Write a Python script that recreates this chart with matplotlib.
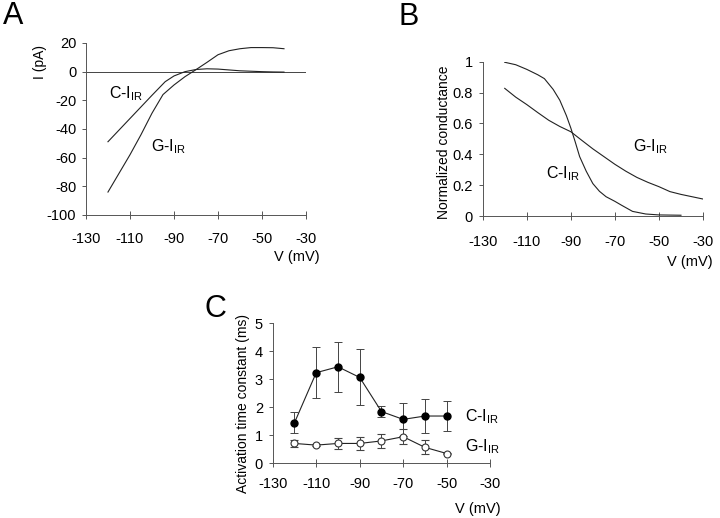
import matplotlib
matplotlib.use('Agg')
import matplotlib.pyplot as plt

plt.rcParams['font.family'] = ['Liberation Sans', 'DejaVu Sans']
plt.rcParams['mathtext.fontset'] = 'custom'
plt.rcParams['mathtext.rm'] = 'Liberation Sans'
plt.rcParams['axes.unicode_minus'] = False

# Panel A: I-V curves
a_c_v = [-120, -115, -110, -105, -100, -94, -90, -85, -80, -75, -70, -65, -60, -55, -50, -45, -40]
a_c_i = [-48.9, -40.8, -32.7, -24.6, -16.5, -7.0, -3.0, 0.0, 1.5, 2.0, 1.8, 1.2, 0.6, 0.3, 0.0, -0.2, -0.3]
a_g_v = [-120, -115, -110, -105, -100, -95, -90, -85, -80, -75, -70, -65, -60, -55, -50, -45, -40]
a_g_i = [-84, -71, -58, -44, -29, -16, -9.3, -3.5, 1.4, 6.5, 11.8, 14.6, 16, 16.8, 16.8, 16.7, 16]

# Panel B: normalized conductance
b_c_v = [-120, -115, -110, -105, -102, -98, -95, -92, -90, -88, -86, -83, -80, -77, -74, -70, -67, -62, -56, -50, -40]
b_c_g = [0.996, 0.98, 0.95, 0.915, 0.89, 0.82, 0.75, 0.65, 0.57, 0.48, 0.385, 0.29, 0.21, 0.16, 0.125,
         0.095, 0.07, 0.03, 0.013, 0.007, 0.005]
b_g_v = [-120, -115, -110, -105, -100, -95, -90, -85, -80, -75, -70, -65, -60, -55, -50, -45, -40, -35, -30]
b_g_g = [0.827, 0.77, 0.722, 0.67, 0.62, 0.58, 0.546, 0.49, 0.435, 0.385, 0.335, 0.29, 0.25, 0.218, 0.19,
         0.158, 0.14, 0.125, 0.11]

# Panel C: activation time constants
c_v = [-120, -110, -100, -90, -80, -70, -60, -50]
c_tau_c = [1.45, 3.24, 3.45, 3.07, 1.85, 1.57, 1.69, 1.69]
c_err_c = [0.38, 0.91, 0.89, 1.0, 0.2, 0.6, 0.62, 0.53]
c_tau_g = [0.71, 0.65, 0.71, 0.71, 0.80, 0.95, 0.57, 0.35]
c_err_g = [0.12, 0.04, 0.2, 0.23, 0.24, 0.27, 0.25, 0.03]

v_ticks = [-130, -110, -90, -70, -50, -30]
lab_c = r'C-I$_{\mathregular{IR}}$'
lab_g = r'G-I$_{\mathregular{IR}}$'
lc = '#222222'
fs = 10.5
fl = 10


def style_axes(ax, xpad):
    for s in ['top', 'right']:
        ax.spines[s].set_visible(False)
    for s in ['left', 'bottom']:
        ax.spines[s].set_linewidth(0.7)
        ax.spines[s].set_color('#555555')
    ax.tick_params(axis='x', direction='inout', length=6, width=0.7, colors='#555555',
                   labelcolor='black', labelsize=fs, pad=xpad)
    ax.tick_params(axis='y', direction='out', length=3, width=0.7, colors='#555555',
                   labelcolor='black', labelsize=fs, pad=4)
    ax.set_xlim(-130, -30)
    ax.set_xticks(v_ticks)


fig = plt.figure(figsize=(7.2, 5.18), dpi=100)

# A
ax = fig.add_axes([0.1194, 0.585, 0.3056, 0.332])
style_axes(ax, 9)
ax.axhline(0, color='#444444', lw=0.7)
ax.plot(a_c_v, a_c_i, color=lc, lw=0.8)
ax.plot(a_g_v, a_g_i, color=lc, lw=0.8)
ax.set_ylim(-100, 20)
ax.set_yticks([20, 0, -20, -40, -60, -80, -100])
ax.text(-119.6, -15.3, lab_c, fontsize=11.5, va='center')
ax.text(-100.6, -52.4, lab_g, fontsize=11.5, va='center')
ax.set_ylabel('I (pA)', fontsize=fl)
ax.yaxis.set_label_coords(-0.177, 0.89)
ax.set_xlabel('V (mV)', fontsize=fs)
ax.xaxis.set_label_coords(0.96, -0.205)
fig.text(0.018, 0.97, 'A', fontsize=22, va='center', ha='center')

# B
ax = fig.add_axes([0.6704, 0.583, 0.306, 0.298])
style_axes(ax, 11)
ax.plot(b_c_v, b_c_g, color=lc, lw=0.8)
ax.plot(b_g_v, b_g_g, color=lc, lw=0.8)
ax.set_ylim(0, 1)
ax.set_yticks([0, 0.2, 0.4, 0.6, 0.8, 1])
ax.set_yticklabels(['0', '0.2', '0.4', '0.6', '0.8', '1'])
ax.text(-61.7, 0.45, lab_g, fontsize=11.5, va='center')
ax.text(-101.3, 0.276, lab_c, fontsize=11.5, va='center')
ax.set_ylabel('Normalized conductance', fontsize=fl)
ax.yaxis.set_label_coords(-0.142, 0.48)
ax.set_xlabel('V (mV)', fontsize=fs)
ax.xaxis.set_label_coords(0.94, -0.25)
fig.text(0.567, 0.967, 'B', fontsize=22, va='center', ha='center')

# C
ax = fig.add_axes([0.3788, 0.1056, 0.302, 0.270])
style_axes(ax, 7)
ax.errorbar(c_v, c_tau_c, yerr=c_err_c, color=lc, lw=0.8, elinewidth=0.7, ecolor='#444444',
            capsize=3, capthick=0.7, marker='o', ms=5, mfc='black', mec='black')
ax.errorbar(c_v, c_tau_g, yerr=c_err_g, color=lc, lw=0.8, elinewidth=0.7, ecolor='#444444',
            capsize=3, capthick=0.7, marker='o', ms=5, mfc='white', mec='#333333', mew=0.8)
ax.set_ylim(0, 5)
ax.set_yticks([0, 1, 2, 3, 4, 5])
ax.text(-41.5, 1.65, lab_c, fontsize=11.5, va='center', clip_on=False)
ax.text(-41.5, 0.59, lab_g, fontsize=11.5, va='center', clip_on=False)
ax.set_ylabel('Activation time constant (ms)', fontsize=fl)
ax.yaxis.set_label_coords(-0.104, 0.43)
ax.set_xlabel('V (mV)', fontsize=fs)
ax.xaxis.set_label_coords(0.945, -0.276)
fig.text(0.299, 0.403, 'C', fontsize=22, va='center', ha='center')

fig.savefig('out.png', dpi=100)
